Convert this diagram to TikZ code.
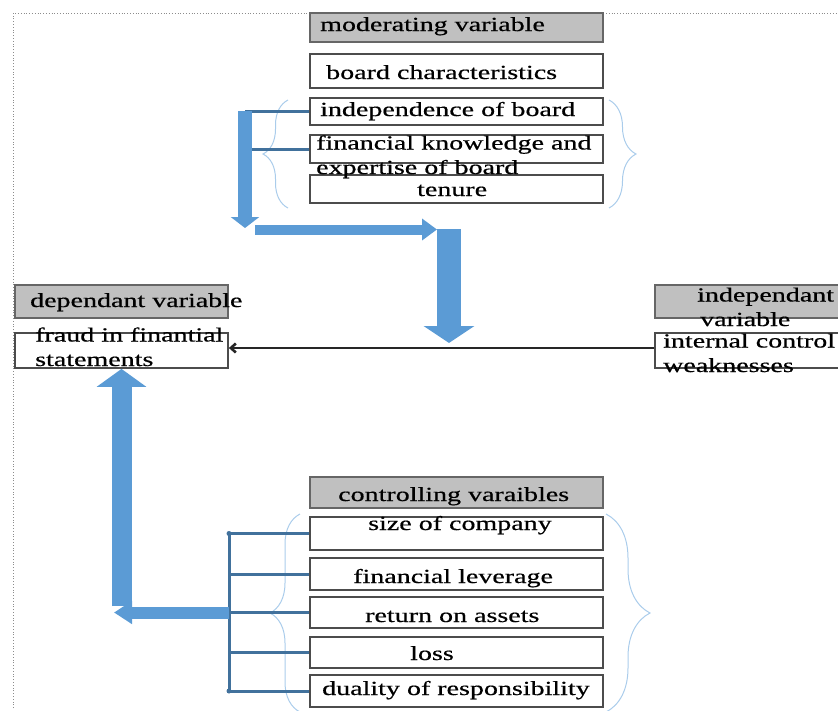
\documentclass[tikz,border=0pt]{standalone}
\usepackage{fontspec}
\setmainfont[FakeStretch=1.4,FakeBold=0.6]{Liberation Serif}
\usetikzlibrary{arrows.meta,decorations.pathreplacing}
\definecolor{arrowblue}{RGB}{91,155,213}
\definecolor{lineblue}{RGB}{65,113,156}
\definecolor{bracecol}{RGB}{170,204,235}
\definecolor{hdrgray}{RGB}{192,192,192}

\begin{document}
\begin{tikzpicture}[x=1pt,y=-1pt,>=Stealth,
  box/.style={draw=black!70,line width=1.8pt,inner sep=0pt},
  hdr/.style={box,fill=hdrgray,draw=black!60,line width=2.4pt},
  txt/.style={anchor=base west,inner sep=0pt,align=left,font=\fontsize{20}{24.5}\selectfont},
  fat/.style={arrowblue},
  link/.style={lineblue,line width=3pt},
  brc/.style={bracecol,line width=1pt,decorate,decoration={brace,amplitude=#1}}]
\useasboundingbox (0,0) rectangle (838,710);
\draw[black!45,dotted,line width=0.8pt] (13,708) -- (13,13) -- (838,13);

% braces
\draw[brc=25pt] (288,208) -- (288,100);
\draw[brc=27pt] (609,100) -- (609,208);
\draw[brc=30pt] (300,712) -- (300,514);
\draw[brc=44pt] (606,514) -- (606,712);

% moderating side
\node[hdr,minimum width=293pt,minimum height=29pt] (mod) at (456.5,27.5) {};
\node[box,minimum width=293pt,minimum height=34pt] (brd) at (456.5,71) {};
\node[box,minimum width=293pt,minimum height=27pt] (ind) at (456.5,111.5) {};
\node[box,minimum width=293pt,minimum height=28pt] (fin) at (456.5,149) {};
\node[box,minimum width=293pt,minimum height=28pt] (ten) at (456.5,189) {};
\node[txt] (modt) at (320,31) {moderating variable};
\node[txt] (brdt) at (326,79) {board characteristics};
\node[txt] (indt) at (320,116) {independence of board};
\node[txt] (fint) at (316,174) {financial knowledge and\\expertise of board};
\node[txt] (tent) at (417,196) {tenure};

% dependant and independant
\node[hdr,minimum width=213pt,minimum height=33pt] (dep) at (121.5,301.5) {};
\node[box,minimum width=213pt,minimum height=35pt] (frd) at (121.5,350.5) {};
\node[hdr,minimum width=195pt,minimum height=33pt] (inv) at (752.5,301.5) {};
\node[box,minimum width=195pt,minimum height=35pt] (icw) at (752.5,350.5) {};
\node[txt] (dept) at (30,307) {dependant variable};
\node[txt] (frdt) at (35,366) {fraud in finantial\\statements};
\node[txt] (invt) at (697,326) {independant\\\hspace*{3pt}variable};
\node[txt] (icwt) at (663,372) {internal control\\weaknesses};

% controlling side
\node[hdr,minimum width=293pt,minimum height=31pt] (ctl) at (456.5,492.5) {};
\node[box,minimum width=293pt,minimum height=33pt] (siz) at (456.5,533.5) {};
\node[box,minimum width=293pt,minimum height=32pt] (lev) at (456.5,574) {};
\node[box,minimum width=293pt,minimum height=31pt] (roa) at (456.5,612.5) {};
\node[box,minimum width=293pt,minimum height=31pt] (los) at (456.5,652.5) {};
\node[box,minimum width=293pt,minimum height=32pt] (dua) at (456.5,691) {};
\node[txt] (ctlt) at (338,501) {controlling varaibles};
\node[txt] (sizt) at (368,530) {size of company};
\node[txt] (levt) at (353,583) {financial leverage};
\node[txt] (roat) at (365,622) {return on assets};
\node[txt] (lost) at (410,660) {loss};
\node[txt] (duat) at (322,695) {duality of responsibility};

% connectors
\coordinate (ttrunk) at (245,111);
\coordinate (drop) at (449,229);
\coordinate (mainy) at (0,348);
\coordinate (bend) at (0,606);
\coordinate (btrunk) at (229,0);
\coordinate (ltip) at (114,612.5);

\draw[link] (ind.west) -- (ind.west -| ttrunk);
\draw[link] (fin.west) -- (fin.west -| ttrunk);
\draw[fat,line width=14pt,-{Triangle[width=28pt,length=11pt]}] (ttrunk) -- (245,228);
\draw[fat,line width=10pt,-{Triangle[width=21pt,length=15pt]}] (255,229.5) -- (437,229.5);
\draw[fat,line width=24pt,-{Triangle[width=50pt,length=17pt]}] (drop) -- (449,343);
\draw[black!85,line width=2.6pt,-{Straight Barb[length=5pt,width=9pt]}] (icw.west |- mainy) -- (frd.east |- mainy);

\draw[link] (siz.west -| btrunk) -- (dua.west -| btrunk);
\foreach \b in {siz,lev,roa,los,dua}
  \draw[link] (\b.west) -- (\b.west -| btrunk);
\fill[lineblue] (siz.west -| btrunk) circle (2.5) (dua.west -| btrunk) circle (2.5);
\draw[fat,line width=20pt,-{Triangle[width=49pt,length=18pt]}] (frd.south |- bend) -- (frd.south);
\draw[fat,line width=12pt,-{Triangle[width=22pt,length=18pt]}] (roa.west -| btrunk) -- (ltip);
\end{tikzpicture}
\end{document}
